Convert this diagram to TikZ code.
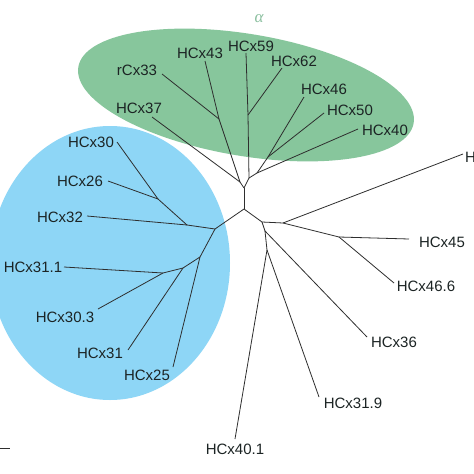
\documentclass[tikz,border=0pt]{standalone}
\usepackage{fontspec}
\setmainfont{Liberation Sans}
\newfontfamily\grkfont{Liberation Serif}
\definecolor{bluec}{HTML}{8ED6F6}
\definecolor{greenc}{HTML}{87C69C}
\definecolor{linec}{HTML}{2E2E2E}
\definecolor{txtc}{HTML}{1C2424}
\definecolor{alphac}{HTML}{8CC0A0}
\begin{document}
\begin{tikzpicture}[x=1pt,y=-1pt,
  br/.style={draw=linec, line width=0.8pt},
  lbl/.style={font=\fontsize{15}{17}\selectfont, text=txtc, inner sep=0pt}]
\useasboundingbox (0,0) rectangle (474,474);
\clip (0,0) rectangle (474,474);
\fill[white] (0,0) rectangle (474,474);
% clusters
\fill[bluec] (110,263) ellipse [x radius=120pt, y radius=137pt];
\fill[greenc, rotate around={-9.5:(246,95)}] (246,95) ellipse [x radius=170pt, y radius=61pt];
\node[font=\grkfont\itshape\fontsize{17}{19}\selectfont, text=alphac, inner sep=0pt] (alpha) at (259,19) {α};
% labels
\node[lbl] (l30) at (91,142) {HCx30};
\node[lbl] (l26) at (80,181) {HCx26};
\node[lbl] (l32) at (60,217) {HCx32};
\node[lbl] (l311) at (33,267) {HCx31.1};
\node[lbl] (l303) at (65,317) {HCx30.3};
\node[lbl] (l31) at (100,353) {HCx31};
\node[lbl] (l25) at (147,375) {HCx25};
\node[lbl] (l33) at (137,70) {rCx33};
\node[lbl] (l37) at (139,108) {HCx37};
\node[lbl] (l43) at (200,53) {HCx43};
\node[lbl] (l59) at (251,46) {HCx59};
\node[lbl] (l62) at (294,61) {HCx62};
\node[lbl] (l46) at (324,89) {HCx46};
\node[lbl] (l50) at (350,110) {HCx50};
\node[lbl] (l40) at (385,130) {HCx40};
\node[lbl] (l45) at (442,242) {HCx45};
\node[lbl] (l466) at (426,286) {HCx46.6};
\node[lbl] (l36) at (394,342) {HCx36};
\node[lbl] (l319) at (353,403) {HCx31.9};
\node[lbl] (l401) at (235,449) {HCx40.1};
\node[lbl, anchor=west] (lH) at (465,157) {H};
% leaf ends
\coordinate (e30) at (117,142);
\coordinate (e26) at (108,181);
\coordinate (e32) at (87,216);
\coordinate (e311) at (64,267);
\coordinate (e303) at (98,309);
\coordinate (e31) at (128,350);
\coordinate (e25) at (173,367);
\coordinate (e33) at (162,74);
\coordinate (e37) at (152,117);
\coordinate (e43) at (205,61);
\coordinate (e59) at (246,53);
\coordinate (e62) at (282,68);
\coordinate (e46) at (304,97);
\coordinate (e50) at (324,113);
\coordinate (e40) at (358,129);
\coordinate (eH) at (463,154);
\coordinate (e45) at (409,239);
\coordinate (e466) at (394,283);
\coordinate (e36) at (367,337);
\coordinate (e319) at (319,397);
\coordinate (e401) at (235,439);
% internal junctions
\coordinate (A) at (244,188);
\coordinate (B) at (244,209);
\coordinate (K) at (249,178);
\coordinate (N) at (248,115);
\coordinate (P) at (257,173);
\coordinate (Q) at (268,157);
\coordinate (L) at (219,119);
\coordinate (M) at (240,182);
\coordinate (C) at (262,222);
\coordinate (D) at (283,223);
\coordinate (E) at (339,237);
\coordinate (F) at (265,231);
\coordinate (G) at (267,250);
\coordinate (R) at (215,229);
\coordinate (U) at (187,225);
\coordinate (T) at (158,199);
\coordinate (V) at (200,257);
\coordinate (W) at (183,268);
\coordinate (X) at (163,273);
% tree
\draw[br] (A) -- (B);
\draw[br] (A) -- (M);
\draw[br] (M) -- (e37);
\draw[br] (M) -- (L);
\draw[br] (L) -- (e33);
\draw[br] (L) -- (e43);
\draw[br] (A) -- (K);
\draw[br] (K) -- (N);
\draw[br] (N) -- (e59);
\draw[br] (N) -- (e62);
\draw[br] (K) -- (P);
\draw[br] (P) -- (e40);
\draw[br] (P) -- (Q);
\draw[br] (Q) -- (e46);
\draw[br] (Q) -- (e50);
\draw[br] (B) -- (R);
\draw[br] (R) -- (U);
\draw[br] (U) -- (e32);
\draw[br] (U) -- (T);
\draw[br] (T) -- (e30);
\draw[br] (T) -- (e26);
\draw[br] (R) -- (V);
\draw[br] (V) -- (e25);
\draw[br] (V) -- (W);
\draw[br] (W) -- (e31);
\draw[br] (W) -- (X);
\draw[br] (X) -- (e311);
\draw[br] (X) -- (e303);
\draw[br] (B) -- (C);
\draw[br] (C) -- (D);
\draw[br] (D) -- (eH);
\draw[br] (D) -- (E);
\draw[br] (E) -- (e45);
\draw[br] (E) -- (e466);
\draw[br] (C) -- (F);
\draw[br] (F) -- (e36);
\draw[br] (F) -- (G);
\draw[br] (G) -- (e319);
\draw[br] (G) -- (e401);
% scale bar fragment
\coordinate (s1) at (0,448);
\coordinate (s2) at (10,448);
\draw[br] (s1) -- (s2);
\end{tikzpicture}
\end{document}
